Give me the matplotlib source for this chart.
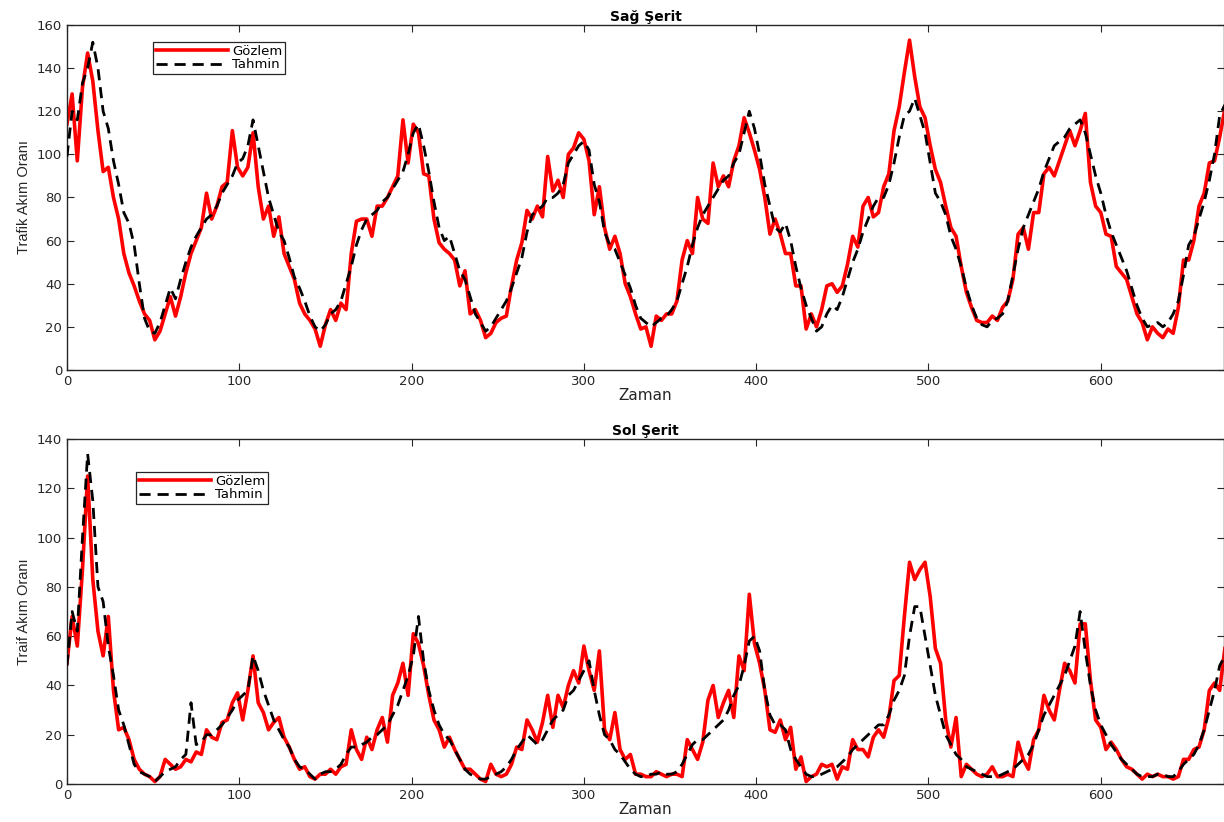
import numpy as np
import matplotlib
matplotlib.use("Agg")
import matplotlib.pyplot as plt

# Values read every 3 time steps (Zaman = 0, 3, 6, ...)
step = 3

# Sağ Şerit
sag_gozlem = [114, 128, 97, 131, 147, 134, 111, 92, 94, 80, 70, 54, 45, 39, 32, 26, 23, 14, 18, 26,
              34, 25, 34, 45, 54, 60, 66, 82, 70, 76, 85, 87, 111, 94, 90, 94, 110, 85, 70, 76,
              62, 71, 54, 48, 42, 31, 26, 23, 19, 11, 21, 28, 23, 31, 28, 54, 69, 70, 70, 62,
              76, 76, 80, 85, 90, 116, 96, 114, 110, 91, 90, 70, 59, 56, 54, 51, 39, 46, 26, 28,
              23, 15, 17, 22, 24, 25, 39, 51, 59, 74, 70, 76, 71, 99, 83, 88, 80, 100, 103, 110,
              107, 97, 72, 85, 66, 56, 62, 54, 40, 34, 26, 19, 20, 11, 25, 23, 26, 26, 32, 51,
              60, 54, 80, 70, 68, 96, 85, 90, 85, 97, 104, 117, 110, 102, 93, 80, 63, 70, 63, 54,
              54, 39, 39, 19, 26, 20, 28, 39, 40, 36, 39, 49, 62, 57, 76, 80, 71, 73, 85, 91,
              111, 122, 138, 153, 136, 122, 117, 104, 93, 87, 76, 66, 62, 48, 36, 29, 23, 22, 22, 25,
              23, 29, 32, 42, 63, 66, 56, 73, 73, 91, 94, 90, 97, 104, 111, 104, 111, 119, 87, 76,
              73, 63, 62, 48, 45, 42, 34, 26, 22, 14, 20, 17, 15, 19, 17, 29, 51, 51, 60, 76,
              82, 96, 97, 108, 121]
sag_tahmin = [99, 120, 116, 133, 140, 152, 140, 120, 112, 97, 86, 73, 68, 58, 40, 24, 18, 17, 22, 30,
              38, 33, 42, 50, 57, 62, 66, 70, 72, 76, 82, 86, 90, 96, 98, 104, 116, 104, 92, 80,
              72, 64, 60, 52, 43, 38, 32, 25, 20, 18, 21, 26, 28, 32, 40, 48, 58, 65, 70, 72,
              74, 78, 80, 84, 88, 92, 100, 110, 114, 104, 92, 78, 66, 60, 62, 54, 46, 42, 34, 26,
              22, 18, 20, 24, 28, 32, 38, 45, 52, 64, 72, 74, 76, 80, 80, 82, 86, 96, 100, 104,
              106, 102, 86, 78, 64, 58, 56, 50, 44, 38, 30, 24, 22, 20, 22, 24, 25, 28, 32, 40,
              48, 58, 66, 72, 76, 80, 84, 88, 90, 96, 100, 110, 120, 112, 100, 86, 76, 66, 64, 68,
              60, 48, 38, 30, 24, 18, 20, 26, 30, 28, 34, 42, 50, 56, 64, 70, 76, 80, 80, 86,
              96, 108, 118, 120, 126, 118, 110, 96, 82, 78, 72, 62, 56, 48, 38, 30, 24, 21, 20, 23,
              24, 26, 32, 44, 56, 66, 72, 78, 84, 92, 98, 104, 106, 108, 112, 114, 116, 110, 100, 90,
              82, 72, 64, 58, 52, 46, 38, 30, 24, 20, 21, 22, 20, 22, 26, 32, 44, 58, 62, 70,
              78, 88, 100, 118, 123]

# Sol Şerit
sol_gozlem = [49, 68, 56, 87, 125, 83, 62, 52, 68, 38, 22, 23, 18, 10, 6, 4, 3, 1, 3, 10,
              8, 6, 7, 10, 9, 13, 12, 22, 19, 18, 25, 26, 33, 37, 26, 38, 52, 33, 29, 22,
              25, 27, 19, 15, 10, 6, 7, 3, 2, 4, 4, 6, 4, 7, 8, 22, 14, 10, 19, 14,
              22, 27, 17, 36, 41, 49, 36, 61, 57, 48, 36, 26, 22, 15, 19, 14, 10, 6, 6, 4,
              2, 1, 8, 4, 3, 4, 8, 15, 14, 26, 22, 17, 25, 36, 23, 36, 31, 40, 46, 41,
              56, 46, 38, 54, 22, 18, 29, 14, 10, 12, 4, 4, 3, 3, 5, 4, 3, 4, 4, 3,
              18, 14, 10, 17, 34, 40, 27, 33, 38, 27, 52, 46, 77, 57, 49, 38, 22, 21, 26,
              18, 23, 6, 11, 1, 3, 4, 8, 7, 8, 2, 7, 6, 18, 14, 14, 11, 19, 22, 19,
              27, 42, 44, 68, 90, 83, 87, 90, 76, 55, 49, 26, 15, 27, 3, 8, 6, 4,
              3, 4, 7, 3, 3, 4, 3, 17, 10, 6, 18, 22, 36, 30, 26, 38, 49, 46, 41, 65,
              65, 42, 26, 23, 14, 17, 14, 10, 7, 6, 4, 2, 4, 3, 4, 3, 3, 2, 3, 10,
              10, 14, 15, 22, 38, 41, 38, 55]
sol_tahmin = [48, 70, 62, 100, 134, 115, 80, 74, 56, 44, 30, 24, 16, 8, 5, 4, 3, 1, 3, 5,
              6, 7, 10, 12, 33, 16, 17, 20, 20, 22, 24, 27, 30, 34, 36, 38, 52, 46, 38, 32,
              26, 22, 18, 15, 10, 7, 6, 4, 2, 4, 5, 5, 6, 8, 12, 15, 15, 16, 17, 19,
              20, 22, 24, 28, 32, 38, 44, 52, 68, 50, 38, 30, 24, 20, 18, 14, 10, 6, 4, 3,
              2, 2, 3, 4, 5, 7, 10, 14, 17, 20, 18, 16, 18, 22, 26, 28, 30, 36, 38, 42,
              46, 50, 38, 28, 20, 18, 14, 12, 9, 6, 4, 3, 3, 4, 4, 5, 4, 4, 5, 8,
              12, 16, 18, 18, 20, 22, 24, 26, 30, 36, 40, 48, 58, 60, 54, 38, 28, 24, 24, 22,
              14, 10, 7, 4, 3, 3, 4, 5, 6, 7, 9, 11, 14, 16, 18, 20, 22, 24, 24, 28,
              34, 38, 44, 60, 72, 72, 60, 48, 36, 28, 20, 16, 12, 10, 7, 6, 5, 4, 3, 3,
              3, 4, 5, 6, 8, 10, 12, 16, 22, 28, 32, 36, 40, 44, 50, 56, 70, 54, 40, 30,
              24, 20, 16, 13, 10, 8, 6, 4, 3, 3, 3, 4, 4, 3, 3, 5, 8, 10, 12, 16,
              22, 30, 38, 48, 52]

yticks_top = np.arange(0, 161, 20)
yticks_bot = np.arange(0, 141, 20)
xticks = np.arange(0, 601, 100)

plt.rcParams['font.family'] = ['DejaVu Sans']

fig = plt.figure(figsize=(12.24, 8.22), dpi=100)
ax1 = fig.add_axes([0.0547, 0.5499, 0.9453, 0.4197])
ax2 = fig.add_axes([0.0547, 0.0462, 0.9453, 0.4197])

panels = [
    (ax1, sag_gozlem, sag_tahmin, "Sağ Şerit", "Trafik Akım Oranı", yticks_top, (0.0743, 0.951)),
    (ax2, sol_gozlem, sol_tahmin, "Sol Şerit", "Traif Akım Oranı", yticks_bot, (0.0596, 0.904)),
]

for ax, obs, pred, title, ylab, yt, leg_pos in panels:
    t_obs = np.arange(len(obs)) * step
    t_pred = np.arange(len(pred)) * step
    ax.plot(t_obs, obs, color="red", lw=2.6, label="Gözlem", zorder=2)
    ax.plot(t_pred, pred, color="black", lw=2.0, ls=(0, (4, 2.5)), label="Tahmin", zorder=3)
    ax.set_xlim(0, 671.5)
    ax.set_ylim(yt[0], yt[-1])
    ax.set_xticks(xticks)
    ax.set_yticks(yt)
    ax.tick_params(direction="in", top=True, right=True, labelsize=9.5,
                   labelcolor="#262626", color="#262626", length=5)
    for s in ax.spines.values():
        s.set_color("#262626")
        s.set_linewidth(1.0)
    ax.set_title(title, fontsize=10, fontweight="bold", pad=3)
    ax.set_xlabel("Zaman", fontsize=11, color="#262626", labelpad=0)
    ax.set_ylabel(ylab, fontsize=10.5, color="#262626",
                  family=["Liberation Sans Narrow", "Liberation Sans", "DejaVu Sans"])
    leg = ax.legend(loc="upper left", bbox_to_anchor=leg_pos, fontsize=9.5, fancybox=False,
                    framealpha=1, edgecolor="#262626", handlelength=5.5, borderpad=0.2,
                    labelspacing=0.05, handletextpad=0.3, borderaxespad=0)
    leg.get_frame().set_linewidth(0.9)

fig.savefig("out.png", dpi=100)
